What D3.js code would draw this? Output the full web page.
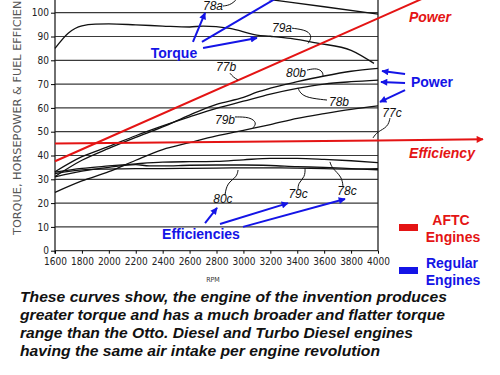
<!DOCTYPE html>
<html>
<head>
<meta charset="utf-8">
<script src="https://cdn.jsdelivr.net/npm/d3@7"></script>
<style>
  body { margin: 0; background: #fff; }
  svg { display: block; }
  .tick text { font-family: "Liberation Sans Narrow", "DejaVu Sans Condensed", sans-serif; font-size: 10px; fill: #222; }
  .lbl { font-family: "Liberation Sans", Arial, sans-serif; font-style: italic; font-size: 12px; fill: #111; }
  .big { font-family: "Liberation Sans", Arial, sans-serif; font-weight: bold; font-size: 14px; }
</style>
</head>
<body>
<div id="plot"></div>
<script>
// tick values
const rpmTicks = [1600, 1800, 2000, 2200, 2400, 2600, 2800, 3000, 3200, 3400, 3600, 3800, 4000];
const yTicks = [0, 10, 20, 30, 40, 50, 60, 70, 80, 90, 100];
const gridValues = [0, 10, 20, 30, 40, 50, 60, 70, 80, 90, 100, 110];

// torque curves [rpm, value]
const torque78a = [[2600, 109.5], [2800, 108.5], [3200, 105.5], [3600, 102.5], [4000, 99.4]];
const torque79a = [[1600, 85], [1700, 91.5], [1800, 94.5], [1900, 95.2], [2000, 95.3], [2200, 94.9],
  [2400, 94.4], [2600, 94], [2700, 94.4], [2900, 93.4], [3100, 90.6], [3200, 90.1], [3350, 89.2],
  [3550, 87.2], [3800, 84.2], [3970, 78.7]];

// power curves
const power80b = [[1600, 31.2], [1800, 38], [2000, 43], [2200, 47.6], [2400, 52], [2600, 57],
  [2800, 61.5], [3000, 64.4], [3100, 66.6], [3200, 68.3], [3400, 71], [3600, 73.4], [3800, 75.4], [4000, 76.6]];
const power78b = [[1600, 33.2], [1800, 39.5], [2000, 43.8], [2200, 48.3], [2400, 52.4], [2600, 56.2],
  [2800, 59.8], [3000, 62.8], [3200, 65.8], [3400, 68.2], [3600, 70], [3800, 71], [4000, 71.7]];
const power79b = [[1600, 24.5], [1800, 29.3], [2000, 33.2], [2200, 38], [2400, 42.5], [2600, 45.4],
  [2800, 48.2], [3000, 50.6], [3200, 53], [3400, 55.6], [3600, 57.6], [3800, 59.4], [4000, 60.9]];

// efficiency curves
const eff78c = [[1600, 33], [1800, 34.6], [2000, 35.6], [2200, 36.5], [2400, 37.2], [2600, 37.4],
  [2800, 37.5], [3000, 38.2], [3200, 38.8], [3400, 38.8], [3600, 38.4], [3800, 37.8], [4000, 37]];
const eff79c = [[1600, 31], [1800, 33.4], [2000, 35], [2200, 36.2], [2300, 35.6], [2400, 35.6],
  [2600, 35.9], [2800, 36], [3000, 36], [3200, 35.8], [3400, 35.3], [3600, 35], [3800, 34.5], [4000, 34]];
const eff80c = [[1600, 32.4], [1800, 34], [2000, 34.3], [2200, 34.5], [2400, 34.5], [2600, 34.6],
  [2800, 34.7], [3000, 34.8], [3200, 34.8], [3400, 34.7], [3600, 34.5], [3800, 34.3], [4000, 34.5]];

// AFTC engine (red) curves, run past the right edge
const aftcPower = [[1600, 37.6], [4000, 97.6], [4350, 106.4]];
const aftcEff = [[1600, 45], [4000, 46.3], [4780, 46.8]];

const captionLines = [
  "These curves show, the engine of the invention produces",
  "greater torque and has a much broader and flatter torque",
  "range than the Otto. Diesel and Turbo Diesel engines",
  "having the same air intake per engine revolution"
];

const W = 500, H = 375;
const blue = "#1414e6", red = "#e41414";

const svg = d3.select("#plot").append("svg")
  .attr("width", W).attr("height", H);

const x = d3.scaleLinear().domain([1600, 4000]).range([55, 378]);
const y = d3.scaleLinear().domain([0, 100]).range([250.7, 12.7]);

const defs = svg.append("defs");
function marker(id, color) {
  defs.append("marker")
    .attr("id", id).attr("viewBox", "0 0 10 10")
    .attr("refX", 9).attr("refY", 5)
    .attr("markerWidth", 9).attr("markerHeight", 7)
    .attr("markerUnits", "userSpaceOnUse")
    .attr("orient", "auto")
    .append("path").attr("d", "M0,0L10,5L0,10Z").attr("fill", color);
}
marker("ab", blue);
marker("ar", red);

// gridlines
svg.append("g").selectAll("line")
  .data(gridValues).enter().append("line")
  .attr("x1", x(1600)).attr("x2", x(4000))
  .attr("y1", d => y(d)).attr("y2", d => y(d))
  .attr("stroke", "#3a3a3a").attr("stroke-width", 1.2);

// frame sides
svg.append("line").attr("x1", x(1600)).attr("x2", x(1600)).attr("y1", y(112)).attr("y2", y(0) + 3)
  .attr("stroke", "#222").attr("stroke-width", 1.3);
svg.append("line").attr("x1", x(4000)).attr("x2", x(4000)).attr("y1", y(112)).attr("y2", y(0))
  .attr("stroke", "#222").attr("stroke-width", 1.3);

// axes
const xAxis = svg.append("g")
  .attr("transform", `translate(0,${y(0)})`)
  .call(d3.axisBottom(x).tickValues(rpmTicks).tickSize(3).tickPadding(4).tickFormat(d3.format("d")));
xAxis.select(".domain").remove();

const yAxis = svg.append("g")
  .attr("transform", `translate(${x(1600)},0)`)
  .call(d3.axisLeft(y).tickValues(yTicks).tickSize(4).tickPadding(2));
yAxis.select(".domain").remove();

svg.append("text")
  .attr("x", 213).attr("y", 282)
  .attr("text-anchor", "middle")
  .style("font-family", "'Liberation Sans Narrow', 'DejaVu Sans Condensed', sans-serif")
  .style("font-size", "7px").attr("fill", "#333")
  .text("RPM");

svg.append("text")
  .attr("transform", "translate(21,235) rotate(-90)")
  .attr("textLength", 249).attr("lengthAdjust", "spacingAndGlyphs")
  .style("font-family", "'Liberation Sans Narrow', 'DejaVu Sans Condensed', sans-serif")
  .style("font-size", "10.5px").attr("fill", "#555")
  .text("TORQUE, HORSEPOWER & FUEL EFFICIENCY");

// curves
const line = d3.line().x(d => x(d[0])).y(d => y(d[1])).curve(d3.curveMonotoneX);
const blackSeries = [torque78a, torque79a, power80b, power78b, power79b, eff78c, eff79c, eff80c];
svg.append("g").selectAll("path")
  .data(blackSeries).enter().append("path")
  .attr("d", line)
  .attr("fill", "none").attr("stroke", "#111").attr("stroke-width", 1.3);

svg.append("path").attr("d", d3.line().x(d => x(d[0])).y(d => y(d[1]))(aftcPower))
  .attr("fill", "none").attr("stroke", red).attr("stroke-width", 2);
svg.append("path").attr("d", d3.line().x(d => x(d[0])).y(d => y(d[1]))(aftcEff))
  .attr("fill", "none").attr("stroke", red).attr("stroke-width", 2)
  .attr("marker-end", "url(#ar)");

// leader lines from curve labels, [rpm, value]
const leaders = [
  [[2848, 102.8], [2915, 103.3], [2975, 107.4]],
  [[3361, 93.5], [3480, 92.6], [3510, 89.7], [3480, 87.1]],
  [[2900, 74.6], [2923, 73], [2960, 71.7]],
  [[3473, 75.9], [3547, 76.8], [3591, 75.1], [3591, 73.4]],
  [[3621, 63.3], [3473, 64.2], [3420, 66.3], [3406, 68.4]],
  [[2937, 56.2], [3049, 56.2], [3101, 53.7], [3071, 51.6]],
  [[2863, 23.4], [2878, 28.4], [2952, 31], [2960, 33.9]],
  [[3406, 25.5], [3406, 28.4], [3458, 31], [3458, 34.7]],
  [[3740, 26.8], [3733, 31], [3658, 34.7], [3643, 37.3]],
  [[4089, 55.7], [4074, 52], [3993, 49.9], [3963, 47.4]]
];
const leaderLine = d3.line().x(d => x(d[0])).y(d => y(d[1])).curve(d3.curveBasis);
svg.append("g").selectAll("path")
  .data(leaders).enter().append("path")
  .attr("d", leaderLine)
  .attr("fill", "none").attr("stroke", "#111").attr("stroke-width", 1);

const curveLabels = [
  ["78a", 2774, 102.8], ["79a", 3287, 93.5], ["77b", 2871, 77.2], ["80b", 3391, 74.7],
  ["78b", 3710, 62.5], ["79b", 2863, 54.9], ["80c", 2848, 21.7], ["79c", 3406, 23.8],
  ["78c", 3770, 25.1], ["77c", 4104, 57.9]
];
svg.append("g").selectAll("text")
  .data(curveLabels).enter().append("text")
  .attr("class", "lbl")
  .attr("x", d => x(d[1])).attr("y", d => y(d[2]))
  .attr("text-anchor", "middle").attr("dy", "0.35em")
  .text(d => d[0]);

// blue annotation arrows [[rpm, v], [rpm, v]]
const blueArrows = [
  [[2625, 87.7], [2715, 99.9]],
  [[2692, 87.7], [3346, 109.5]],
  [[2700, 85.2], [3101, 89.4]],
  [[4201, 74.2], [4030, 75.5]],
  [[4201, 70.5], [4022, 70.9]],
  [[4201, 67.5], [4015, 62.5]],
  [[2715, 11.6], [2804, 18.0]],
  [[2826, 11.2], [3331, 20.0]],
  [[2997, 10.0], [3755, 21.7]]
];
svg.append("g").selectAll("line")
  .data(blueArrows).enter().append("line")
  .attr("x1", d => x(d[0][0])).attr("y1", d => y(d[0][1]))
  .attr("x2", d => x(d[1][0])).attr("y2", d => y(d[1][1]))
  .attr("stroke", blue).attr("stroke-width", 2)
  .attr("marker-end", "url(#ab)");

// annotation texts
function label(txt, px, py, color, italic) {
  svg.append("text").attr("class", "big")
    .attr("x", px).attr("y", py)
    .attr("text-anchor", "middle").attr("dy", "0.35em")
    .attr("fill", color)
    .style("font-style", italic ? "italic" : "normal")
    .text(txt);
}
label("Torque", 174, 53, blue, false);
label("Efficiencies", 201, 234, blue, false);
label("Power", 432, 82, blue, false);
label("Power", 430, 17, red, true);
label("Efficiency", 442, 153, red, true);

// legend
svg.append("rect").attr("x", 399).attr("y", 224).attr("width", 19).attr("height", 7).attr("fill", red);
svg.append("rect").attr("x", 399).attr("y", 267).attr("width", 19).attr("height", 7).attr("fill", blue);
label("AFTC", 451, 220, red, false);
label("Engines", 453, 237, red, false);
label("Regular", 452, 263, blue, false);
label("Engines", 453, 280, blue, false);

// caption
const capW = [427, 425, 393, 360];
svg.append("g").selectAll("text")
  .data(captionLines).enter().append("text")
  .attr("x", 20).attr("y", (d, i) => 302 + i * 18)
  .attr("textLength", (d, i) => capW[i]).attr("lengthAdjust", "spacingAndGlyphs")
  .style("font-family", "'Liberation Sans', Arial, sans-serif")
  .style("font-weight", "bold").style("font-style", "italic").style("font-size", "15px")
  .attr("fill", "#111")
  .text(d => d);
</script>
</body>
</html>
